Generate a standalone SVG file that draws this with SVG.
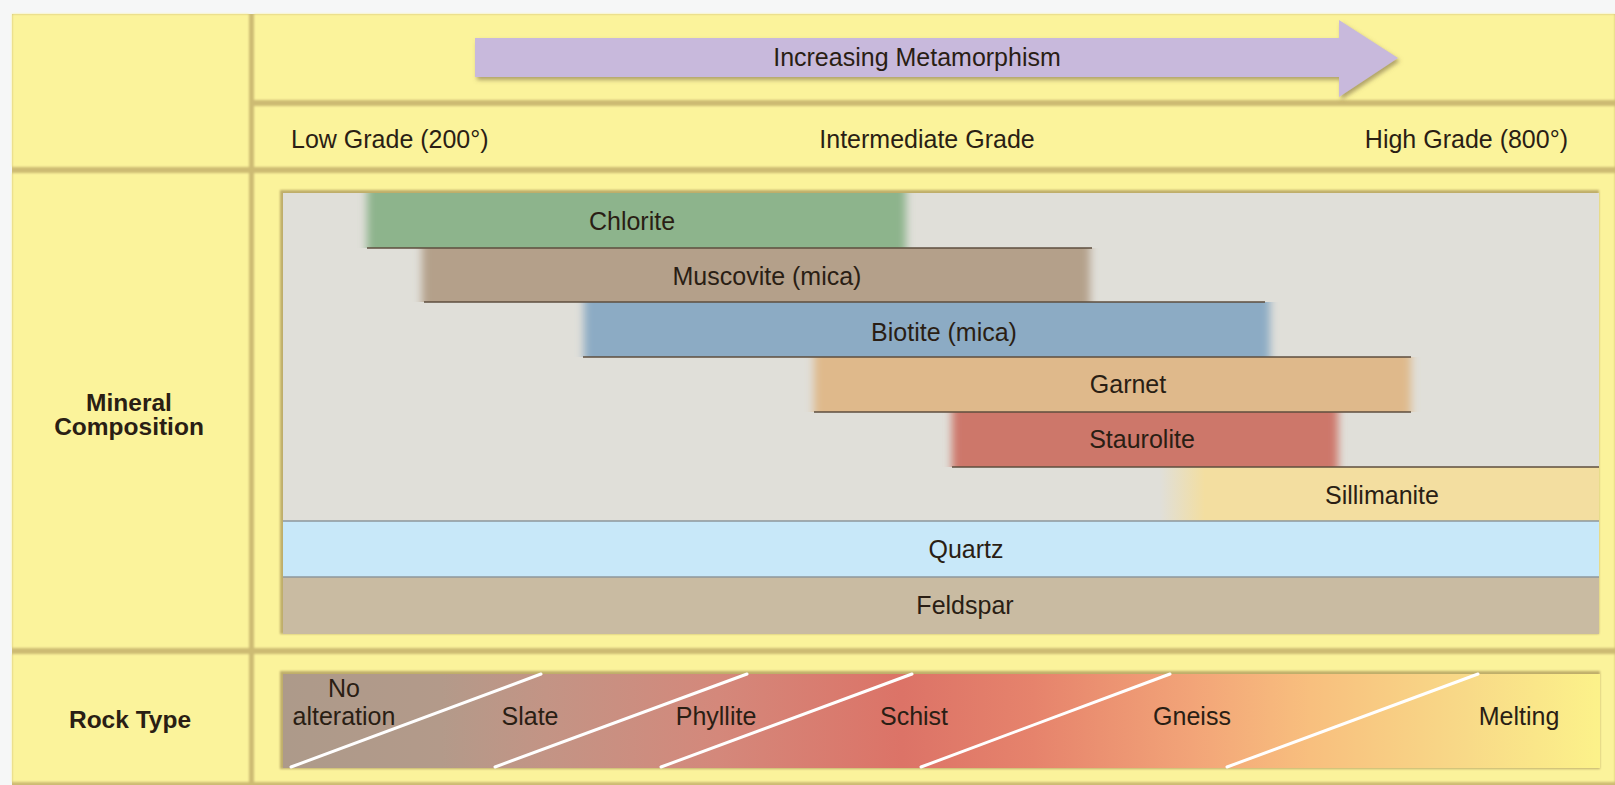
<svg xmlns="http://www.w3.org/2000/svg" width="1615" height="785" viewBox="0 0 1615 785">
<defs>
<style>
.t{font-family:"Liberation Sans",Arial,Helvetica,sans-serif;font-size:25px;fill:#2a1e14;}
.c{text-anchor:middle;}
.b{font-weight:bold;font-size:24.5px;}
.panel{fill:#fbf39b;}
.sep{stroke:#5e4e3e;stroke-width:1.5;}
.sepg{stroke:#8e979b;stroke-width:1.5;}
.diag{stroke:#ffffff;stroke-width:3;stroke-linecap:round;}
</style>
<filter id="soft" x="-2%" y="-2%" width="104%" height="104%"><feGaussianBlur stdDeviation="1.3"/></filter>
<filter id="hblur" x="-5%" y="0%" width="110%" height="100%"><feGaussianBlur stdDeviation="4 0"/></filter>
<filter id="shadow" x="-5%" y="-20%" width="110%" height="150%"><feDropShadow dx="2" dy="3" stdDeviation="2" flood-color="#6f6040" flood-opacity="0.55"/></filter>
<linearGradient id="rock" x1="0" y1="0" x2="1" y2="0">
<stop offset="0" stop-color="#ad9a8a"/>
<stop offset="0.12" stop-color="#b39a8a"/>
<stop offset="0.2" stop-color="#c39485"/>
<stop offset="0.33" stop-color="#d4887b"/>
<stop offset="0.47" stop-color="#dc7367"/>
<stop offset="0.57" stop-color="#e6836c"/>
<stop offset="0.69" stop-color="#f2a478"/>
<stop offset="0.78" stop-color="#f8bf7e"/>
<stop offset="0.9" stop-color="#f8da88"/>
<stop offset="1" stop-color="#fcf28a"/>
</linearGradient>
<linearGradient id="sill" x1="1160" y1="0" x2="1205" y2="0" gradientUnits="userSpaceOnUse">
<stop offset="0" stop-color="#f3dea0" stop-opacity="0"/>
<stop offset="1" stop-color="#f3dea0" stop-opacity="1"/>
</linearGradient>
</defs>

<rect x="0" y="0" width="1615" height="785" fill="#f6f7f7"/>

<g id="frame">
<rect x="12" y="14" width="1603" height="771" fill="#cdbb73"/>
<g filter="url(#soft)">
<rect class="panel" x="12" y="14" width="237" height="153"/>
<rect class="panel" x="12" y="173" width="237" height="475"/>
<rect class="panel" x="12" y="654" width="237" height="128"/>
<rect class="panel" x="254" y="14" width="1361" height="86"/>
<rect class="panel" x="254" y="106" width="1361" height="61"/>
<rect class="panel" x="254" y="173" width="1361" height="475"/>
<rect class="panel" x="254" y="654" width="1361" height="128"/>
</g>
</g>

<g id="arrow">
<polygon points="475,38 1339,38 1339,20 1398,58 1339,97 1339,77 475,77" fill="#c8b9dc" filter="url(#shadow)"/>
<text class="t c" x="917" y="66">Increasing Metamorphism</text>
</g>

<g id="grades">
<text class="t" x="291" y="148">Low Grade (200°)</text>
<text class="t c" x="927" y="148">Intermediate Grade</text>
<text class="t" x="1568" y="148" text-anchor="end">High Grade (800°)</text>
</g>

<g id="label-mineral">
<text class="t c b" x="129" y="411">Mineral</text>
<text class="t c b" x="129" y="435">Composition</text>
</g>

<g id="label-rock">
<text class="t c b" x="130" y="728">Rock Type</text>
</g>

<g id="minerals">
<rect x="280" y="190" width="1319" height="444" fill="#bfae6a" filter="url(#soft)"/>
<rect x="283" y="193" width="1316" height="441" fill="#e0dfd9"/>
<g id="chlorite"><rect x="367" y="193" width="539" height="55" fill="#8db48c" filter="url(#hblur)"/><text class="t c" x="632" y="230">Chlorite</text></g>
<g id="muscovite"><rect x="422" y="248" width="668" height="54" fill="#b4a08a" filter="url(#hblur)"/><text class="t c" x="767" y="285">Muscovite (mica)</text></g>
<g id="biotite"><rect x="584" y="302" width="686" height="55" fill="#8cabc4" filter="url(#hblur)"/><text class="t c" x="944" y="341">Biotite (mica)</text></g>
<g id="garnet"><rect x="814" y="357" width="597" height="55" fill="#dfb98b" filter="url(#hblur)"/><text class="t c" x="1128" y="393">Garnet</text></g>
<g id="staurolite"><rect x="952" y="412" width="386" height="55" fill="#cd776a" filter="url(#hblur)"/><text class="t c" x="1142" y="448">Staurolite</text></g>
<g id="sillimanite"><rect x="1160" y="467" width="45" height="54" fill="url(#sill)"/><rect x="1204" y="467" width="395" height="54" fill="#f3dea0"/><text class="t c" x="1382" y="504">Sillimanite</text></g>
<g id="quartz"><rect x="283" y="521" width="1316" height="56" fill="#c8e8f9"/><text class="t c" x="966" y="558">Quartz</text></g>
<g id="feldspar"><rect x="283" y="577" width="1316" height="57" fill="#c9bba2"/><text class="t c" x="965" y="614">Feldspar</text></g>
<line class="sep" x1="367" y1="248" x2="1092" y2="248"/>
<line class="sep" x1="424" y1="302" x2="1265" y2="302"/>
<line class="sep" x1="583" y1="357" x2="1411" y2="357"/>
<line class="sep" x1="814" y1="412" x2="1411" y2="412"/>
<line class="sep" x1="952" y1="467" x2="1599" y2="467"/>
<line class="sepg" x1="283" y1="521" x2="1599" y2="521"/>
<line class="sepg" x1="283" y1="577" x2="1599" y2="577"/>
</g>

<g id="rocks">
<rect x="280" y="671" width="1320" height="98" fill="#bfae6a" filter="url(#soft)"/>
<rect x="283" y="674" width="1317" height="94" fill="url(#rock)"/>
<g id="rock-dividers">
<line class="diag" x1="291" y1="767" x2="541" y2="674"/>
<line class="diag" x1="495" y1="767" x2="747" y2="674"/>
<line class="diag" x1="661" y1="767" x2="912" y2="674"/>
<line class="diag" x1="921" y1="767" x2="1170" y2="674"/>
<line class="diag" x1="1227" y1="767" x2="1478" y2="674"/>
</g>
<g id="no-alteration"><text class="t c" x="344" y="697">No</text><text class="t c" x="344" y="725">alteration</text></g>
<g id="slate"><text class="t c" x="530" y="725">Slate</text></g>
<g id="phyllite"><text class="t c" x="716" y="725">Phyllite</text></g>
<g id="schist"><text class="t c" x="914" y="725">Schist</text></g>
<g id="gneiss"><text class="t c" x="1192" y="725">Gneiss</text></g>
<g id="melting"><text class="t c" x="1519" y="725">Melting</text></g>
</g>

<g id="connectors"/>
</svg>
